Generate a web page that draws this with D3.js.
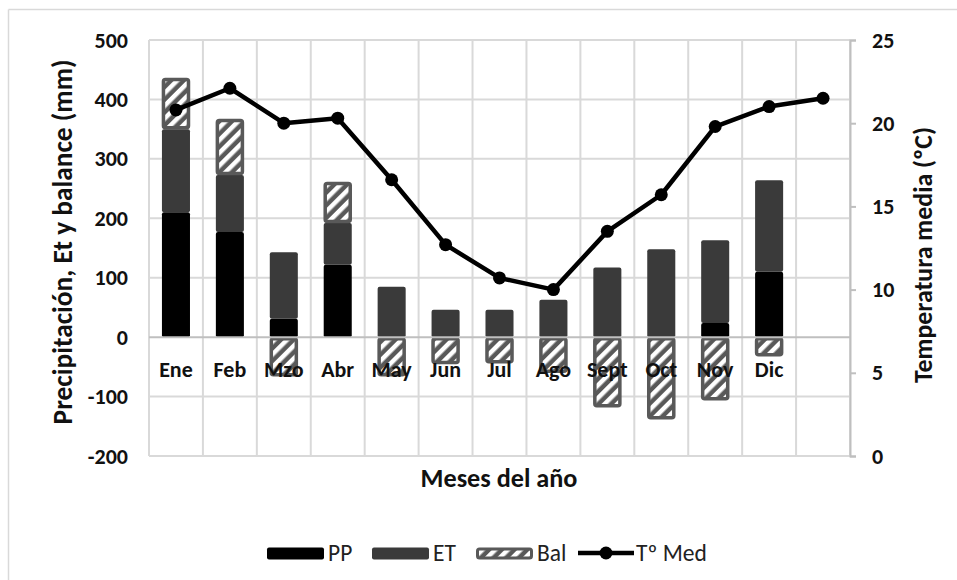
<!DOCTYPE html>
<html>
<head>
<meta charset="utf-8">
<script src="https://cdn.jsdelivr.net/npm/d3@7"></script>
<style>
  html, body { margin: 0; padding: 0; background: #fff; }
  svg { display: block; font-family: Carlito, Lato, "Open Sans", sans-serif; }
</style>
</head>
<body>
<svg id="chart" width="957" height="580"></svg>
<script>
// Monthly water balance: precipitation, evapotranspiration, balance (mm) and mean temperature (ºC)
const months = ["Ene", "Feb", "Mzo", "Abr", "May", "Jun", "Jul", "Ago", "Sept", "Oct", "Nov", "Dic", ""];
const pp  = [210, 177, 31, 122, 0, 0, 0, 0, 0, 0, 24, 110];
const et  = [140, 96, 112, 70, 85, 46, 46, 63, 117, 148, 139, 154];
const bal = [86, 94, -66, 69, -66, -45, -44, -60, -118, -138, -106, -32];
const tmed = [20.8, 22.1, 20.0, 20.3, 16.6, 12.7, 10.7, 10.0, 13.5, 15.7, 19.8, 21.0, 21.5];
const leftTicks = [-200, -100, 0, 100, 200, 300, 400, 500];
const rightTicks = [0, 5, 10, 15, 20, 25];
const seriesNames = ["PP", "ET", "Bal", "Tº Med"];

const svg = d3.select("#chart");
const plot = { left: 149, right: 850, top: 40, bottom: 456 };
const FONT = "Carlito, Lato, sans-serif";
const INK = "#111";

// Scale a text element's font so that it spans the given width
function fitWidth(sel, width) {
  const node = sel.node();
  const fs = parseFloat(sel.attr("font-size"));
  const w = node.getComputedTextLength();
  if (w > 0) sel.attr("font-size", (fs * width / w).toFixed(2));
  return sel;
}

const x = d3.scaleBand()
  .domain(d3.range(months.length))
  .range([plot.left, plot.right])
  .paddingInner(0.48)
  .paddingOuter(0.24);
const step = x.step();
const yL = d3.scaleLinear().domain([-200, 500]).range([plot.bottom, plot.top]);
const yR = d3.scaleLinear().domain([0, 25]).range([plot.bottom, plot.top]);

// Diagonal stripe fill for the balance series
const defs = svg.append("defs");
const pat = defs.append("pattern")
  .attr("id", "hatch")
  .attr("patternUnits", "userSpaceOnUse")
  .attr("width", 9).attr("height", 9)
  .attr("patternTransform", "rotate(45)");
pat.append("rect").attr("width", 9).attr("height", 9).attr("fill", "#595959");
pat.append("rect").attr("x", 0).attr("width", 4.5).attr("height", 9).attr("fill", "#fff");

// Outer frame (top and left edges)
svg.append("line").attr("x1", 8.5).attr("x2", 957).attr("y1", 9.5).attr("y2", 9.5)
  .attr("stroke", "#d9d9d9").attr("stroke-width", 1.5);
svg.append("line").attr("x1", 8.5).attr("x2", 8.5).attr("y1", 9.5).attr("y2", 580)
  .attr("stroke", "#d9d9d9").attr("stroke-width", 1.5);

// Grid
const grid = svg.append("g");
grid.selectAll("line.h").data(leftTicks.filter(d => d !== 0)).join("line")
  .attr("x1", plot.left).attr("x2", plot.right)
  .attr("y1", d => yL(d)).attr("y2", d => yL(d))
  .attr("stroke", "#d9d9d9").attr("stroke-width", 2);
grid.selectAll("line.v").data(d3.range(months.length + 1)).join("line")
  .attr("x1", i => plot.left + i * step).attr("x2", i => plot.left + i * step)
  .attr("y1", plot.top).attr("y2", plot.bottom)
  .attr("stroke", "#d9d9d9").attr("stroke-width", 2);

// Right axis line with outward ticks
const axisR = svg.append("g").attr("transform", `translate(${plot.right},0)`)
  .call(d3.axisRight(yR).tickValues(rightTicks).tickSize(6).tickFormat(d => String(d)).tickPadding(16));
axisR.select(".domain").attr("stroke", "#bfbfbf").attr("stroke-width", 2);
axisR.selectAll(".tick line").attr("stroke", "#bfbfbf").attr("stroke-width", 2);
axisR.selectAll("text").attr("font-size", 22).attr("font-weight", "bold").attr("fill", INK)
  .attr("font-family", FONT);

// Left axis labels
const axisL = svg.append("g").attr("transform", `translate(${plot.left},0)`)
  .call(d3.axisLeft(yL).tickValues(leftTicks).tickSize(0).tickFormat(d => String(d)).tickPadding(21));
axisL.select(".domain").remove();
axisL.selectAll("text").attr("font-size", 22).attr("font-weight", "bold").attr("fill", INK)
  .attr("font-family", FONT);

// Stacked bars
const rows = pp.map((v, i) => ({ i, pp: v, et: et[i], bal: bal[i] }));
const stack = d3.stack().keys(["pp", "et", "bal"]).offset(d3.stackOffsetDiverging);
const layers = stack(rows);
const fills = { pp: "#000000", et: "#3a3a3a", bal: "url(#hatch)" };

layers.forEach(layer => {
  const key = layer.key;
  const inset = key === "bal" ? 1.5 : 0;
  svg.append("g").selectAll("rect").data(layer.filter(s => s[1] !== s[0])).join("rect")
    .attr("x", s => x(s.data.i) + inset)
    .attr("width", x.bandwidth() - 2 * inset)
    .attr("y", s => yL(Math.max(s[0], s[1])) + inset)
    .attr("height", s => Math.abs(yL(s[0]) - yL(s[1])) - 2 * inset)
    .attr("rx", 2)
    .attr("fill", fills[key])
    .attr("stroke", key === "bal" ? "#595959" : "none")
    .attr("stroke-width", key === "bal" ? 3.5 : 0);
});

// Zero line
svg.append("line").attr("x1", plot.left).attr("x2", plot.right)
  .attr("y1", yL(0)).attr("y2", yL(0))
  .attr("stroke", "#bfbfbf").attr("stroke-width", 2);

// Category labels just under the zero line
svg.append("g").selectAll("text").data(months).join("text")
  .attr("x", (d, i) => x(i) + x.bandwidth() / 2)
  .attr("y", yL(0) + 40)
  .attr("text-anchor", "middle")
  .attr("font-size", 22).attr("font-weight", "bold").attr("fill", INK)
  .text(d => d);

// Temperature line
const line = d3.line().x((d, i) => x(i) + x.bandwidth() / 2).y(d => yR(d));
svg.append("path").datum(tmed).attr("d", line)
  .attr("fill", "none").attr("stroke", "#000").attr("stroke-width", 4.5)
  .attr("stroke-linejoin", "round");
svg.append("g").selectAll("circle").data(tmed).join("circle")
  .attr("cx", (d, i) => x(i) + x.bandwidth() / 2)
  .attr("cy", d => yR(d))
  .attr("r", 6.5).attr("fill", "#000");

// Axis titles
fitWidth(svg.append("text")
  .attr("transform", "translate(62,242) rotate(-90)")
  .attr("text-anchor", "middle").attr("dominant-baseline", "central")
  .attr("font-size", 22).attr("font-weight", "bold").attr("fill", INK)
  .text("Precipitación, Et y balance (mm)"), 365);
fitWidth(svg.append("text")
  .attr("transform", "translate(923,255) rotate(-90)")
  .attr("text-anchor", "middle").attr("dominant-baseline", "central")
  .attr("font-size", 22).attr("font-weight", "bold").attr("fill", INK)
  .text("Temperatura media (ºC)"), 256);
fitWidth(svg.append("text")
  .attr("x", 499).attr("y", 478)
  .attr("text-anchor", "middle").attr("dominant-baseline", "central")
  .attr("font-size", 22).attr("font-weight", "bold").attr("fill", INK)
  .text("Meses del año"), 157);

// Legend
const legend = svg.append("g").attr("transform", "translate(0,553)");
const legX = [267, 372, 476, 578];
const legFill = ["#000000", "#3a3a3a", "url(#hatch)"];
seriesNames.forEach((name, k) => {
  const g = legend.append("g").attr("transform", `translate(${legX[k]},0)`);
  if (k < 3) {
    g.append("rect").attr("x", k === 2 ? 1.5 : 0).attr("y", k === 2 ? -4 : -5.5)
      .attr("width", k === 2 ? 54 : 57).attr("height", k === 2 ? 9 : 12)
      .attr("rx", 2).attr("fill", legFill[k])
      .attr("stroke", k === 2 ? "#595959" : "none").attr("stroke-width", 3);
    g.append("text").attr("x", 61).attr("y", 0).attr("dominant-baseline", "central")
      .attr("font-size", 23.5).attr("fill", "#222").text(name);
  } else {
    g.append("line").attr("x1", 0).attr("x2", 56).attr("y1", 0).attr("y2", 0)
      .attr("stroke", "#000").attr("stroke-width", 4.5);
    g.append("circle").attr("cx", 28).attr("cy", 0).attr("r", 6.5).attr("fill", "#000");
    g.append("text").attr("x", 58).attr("y", 0).attr("dominant-baseline", "central")
      .attr("font-size", 23.5).attr("fill", "#222").text(name);
  }
});
</script>
</body>
</html>
